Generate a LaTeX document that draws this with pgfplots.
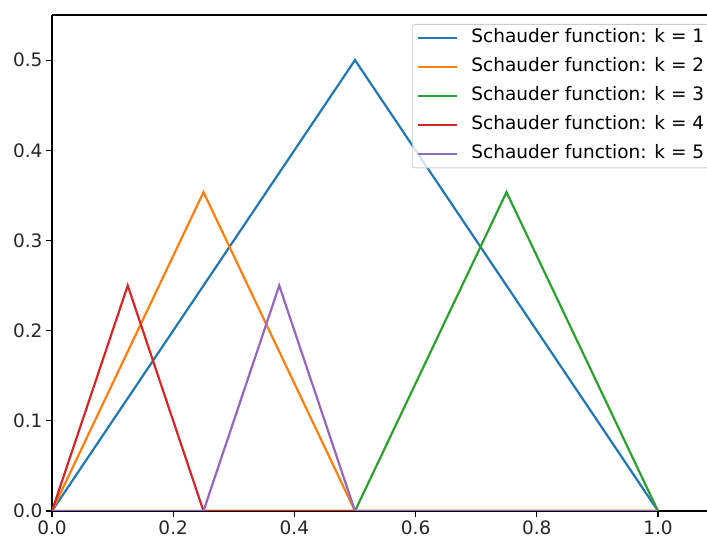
\documentclass[border=0pt]{standalone}
\usepackage{fontspec}
\setmainfont{DejaVu Sans}
\usepackage{pgfplots}
\pgfplotsset{compat=1.18}
\usetikzlibrary{calc}
\definecolor{C0}{HTML}{1F77B4}
\definecolor{C1}{HTML}{FF7F0E}
\definecolor{C2}{HTML}{2CA02C}
\definecolor{C3}{HTML}{D62728}
\definecolor{C4}{HTML}{9467BD}
\definecolor{legedge}{HTML}{CCCCCC}
\begin{document}
\begin{tikzpicture}
\begin{axis}[
  scale only axis,
  width=666.6bp, height=496bp,
  xmin=0, xmax=1.1, ymin=0, ymax=0.55,
  axis x line*=box, axis y line*=left,
  axis line style={line width=1.1bp, black},
  xtick={0,0.2,0.4,0.6,0.8,1.0},
  ytick={0,0.1,0.2,0.3,0.4,0.5},
  xtick pos=bottom, ytick pos=left,
  tick align=outside,
  major tick length=6bp,
  every tick/.style={black, line width=1.1bp},
  /pgf/number format/assume math mode=true,
  /pgf/number format/.cd, fixed, fixed zerofill, precision=1, /pgfplots/.cd,
  tick label style={font=\fontsize{18.5bp}{22bp}\selectfont, text=black!85},
  legend style={
    at={(rel axis cs:1,1)}, anchor=north east, xshift=-9bp, yshift=-9bp,
    draw=legedge, line width=0.8bp, fill=white, fill opacity=0.8, text opacity=1,
    rounded corners=3bp,
    font=\fontsize{18.5bp}{22bp}\selectfont,
    inner xsep=5bp, inner ysep=5bp,
    row sep=11.5bp,
    nodes={inner sep=0pt, text height=13.5bp, text depth=4bp},
    /tikz/every odd column/.append style={column sep=13bp},
  },
  legend cell align=left,
  legend image code/.code={\draw[#1] (0bp,0bp) -- (39bp,0bp);},
  every axis plot/.append style={line width=2.2bp},
]
\coordinate (O) at (rel axis cs:0,0);
\addplot[C0] coordinates {(0,0) (0.5,0.5) (1,0)};
\addlegendentry{Schauder function: k = 1}
\addplot[C1] coordinates {(0,0) (0.25,0.353553) (0.5,0) (1,0)};
\addlegendentry{Schauder function: k = 2}
\addplot[C2] coordinates {(0,0) (0.5,0) (0.75,0.353553) (1,0)};
\addlegendentry{Schauder function: k = 3}
\addplot[C3] coordinates {(0,0) (0.125,0.25) (0.25,0) (1,0)};
\addlegendentry{Schauder function: k = 4}
\addplot[C4] coordinates {(0,0) (0.25,0) (0.375,0.25) (0.5,0) (1,0)};
\addlegendentry{Schauder function: k = 5}
\end{axis}
\pgfresetboundingbox
\path ($(O)+(-52bp,-29bp)$) rectangle ($(O)+(655bp,511bp)$);
\end{tikzpicture}
\end{document}
